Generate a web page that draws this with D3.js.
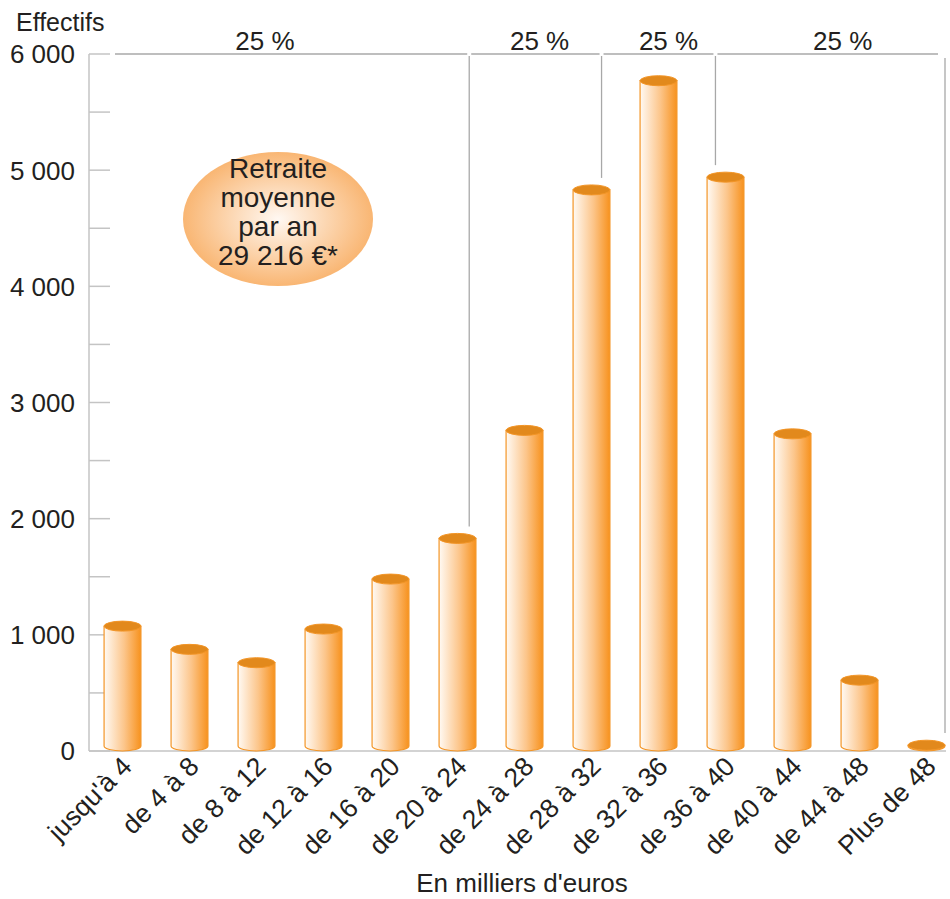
<!DOCTYPE html>
<html>
<head>
<meta charset="utf-8">
<script src="https://cdn.jsdelivr.net/npm/d3@7"></script>
<style>
  body { margin: 0; background: #fff; }
  svg { display: block; font-family: "Liberation Sans", Arial, sans-serif; }
  text { fill: #231f20; }
</style>
</head>
<body>
<svg id="chart" width="950" height="899"></svg>
<script>
// tranches de retraite (milliers d'euros) et effectifs
const categories = ["jusqu'à 4", "de 4 à 8", "de 8 à 12", "de 12 à 16", "de 16 à 20", "de 20 à 24",
    "de 24 à 28", "de 28 à 32", "de 32 à 36", "de 36 à 40", "de 40 à 44", "de 44 à 48", "Plus de 48"];
const effectifs = [1075, 875, 760, 1050, 1480, 1830, 2760, 4830, 5770, 4940, 2730, 610, 50];
const yTicks = [0, 1000, 2000, 3000, 4000, 5000, 6000];
const minorTicks = [500, 1500, 2500, 3500, 4500, 5500];
// quartiles (milliers d'euros) et libellés
const quartiles = [22.7, 30.6, 37.4];
const quartileLabels = [
    {k: 10.5, text: "25 %"},
    {k: 26.9, text: "25 %"},
    {k: 34.6, text: "25 %"},
    {k: 45.0, text: "25 %"}
];
const bubbleLines = ["Retraite", "moyenne", "par an", "29 216 €*"];

let svg = d3.select("#chart");

let x = d3.scaleBand().domain(categories).range([89, 960]).paddingInner(0.45).paddingOuter(0.225);
let y = d3.scaleLinear().domain([0, 6000]).range([751, 54]);
// euros -> position : le centre de chaque tranche de 4 k€
let xe = d3.scaleLinear()
    .domain([2, 50])
    .range([x(categories[0]) + x.bandwidth() / 2, x(categories[12]) + x.bandwidth() / 2]);

let locale = d3.formatLocale({decimal: ",", thousands: " ", grouping: [3], currency: ["", " €"]});
let fmt = locale.format(",");

let defs = svg.append("defs");
let grad = defs.append("linearGradient").attr("id", "body");
grad.append("stop").attr("offset", "0%").attr("stop-color", "#fffaf4");
grad.append("stop").attr("offset", "55%").attr("stop-color", "#fcc58a");
grad.append("stop").attr("offset", "100%").attr("stop-color", "#f7921e");
let rad = defs.append("radialGradient").attr("id", "bubble");
rad.append("stop").attr("offset", "0%").attr("stop-color", "#fff8f2");
rad.append("stop").attr("offset", "100%").attr("stop-color", "#f9b673");

const grey = "#c4c4c4";

// axe vertical et graduations
svg.append("line").attr("x1", 89).attr("x2", 89).attr("y1", y(6000)).attr("y2", y(0))
    .attr("stroke", grey).attr("stroke-width", 1.5);
svg.selectAll(".tick").data(yTicks.concat(minorTicks)).enter().append("line")
    .attr("x1", 89).attr("x2", 110)
    .attr("y1", d => y(d)).attr("y2", d => y(d))
    .attr("stroke", grey).attr("stroke-width", 1.5);
svg.selectAll(".ylab").data(yTicks).enter().append("text")
    .attr("x", 75).attr("y", d => y(d)).attr("dy", "0.36em")
    .attr("text-anchor", "end").style("font-size", "26px")
    .text(d => fmt(d));
svg.append("text").attr("x", 16).attr("y", 31).style("font-size", "25px").text("Effectifs");

// axe horizontal
svg.append("line").attr("x1", 89).attr("x2", 946).attr("y1", y(0)).attr("y2", y(0))
    .attr("stroke", grey).attr("stroke-width", 1.5);

// cylindres
let ry = 5;
let groups = svg.selectAll(".bar").data(effectifs).enter().append("g");
groups.append("path")
    .attr("d", (d, i) => {
        let x0 = x(categories[i]), w = x.bandwidth();
        let top = y(d), bot = y(0) - ry;
        return "M" + x0 + "," + top + "L" + x0 + "," + bot +
            "A" + (w / 2) + "," + ry + " 0 0 0 " + (x0 + w) + "," + bot +
            "L" + (x0 + w) + "," + top + "Z";
    })
    .attr("fill", "url(#body)")
    .attr("stroke", "#f39526").attr("stroke-width", 1.2);
groups.append("ellipse")
    .attr("cx", (d, i) => x(categories[i]) + x.bandwidth() / 2)
    .attr("cy", d => y(d))
    .attr("rx", x.bandwidth() / 2).attr("ry", ry)
    .attr("fill", "#e2891c").attr("stroke", "#f39526").attr("stroke-width", 1);

// repères des quartiles
let topY = y(6000);
let bounds = [115].concat(quartiles.map(q => xe(q))).concat([940]);
for (let i = 0; i < bounds.length - 1; i++) {
    svg.append("line")
        .attr("x1", bounds[i] + (i === 0 ? 0 : 2)).attr("x2", bounds[i + 1] - 2)
        .attr("y1", topY).attr("y2", topY)
        .attr("stroke", "#a8a8a8").attr("stroke-width", 1.3);
}
quartiles.forEach(q => {
    let bin = Math.floor(q / 4);
    svg.append("line")
        .attr("x1", xe(q)).attr("x2", xe(q))
        .attr("y1", topY + 2).attr("y2", y(effectifs[bin]) - 12)
        .attr("stroke", "#a8a8a8").attr("stroke-width", 1.3);
});
svg.append("line").attr("x1", 945).attr("x2", 945).attr("y1", topY + 4).attr("y2", 733)
    .attr("stroke", "#a8a8a8").attr("stroke-width", 1.3);
svg.selectAll(".qlab").data(quartileLabels).enter().append("text")
    .attr("x", d => xe(d.k)).attr("y", 50)
    .attr("text-anchor", "middle").style("font-size", "26px")
    .text(d => d.text);

// bulle de la retraite moyenne
svg.append("ellipse").attr("cx", 278).attr("cy", 219).attr("rx", 95).attr("ry", 67)
    .attr("fill", "url(#bubble)");
svg.selectAll(".bub").data(bubbleLines).enter().append("text")
    .attr("x", 278).attr("y", (d, i) => 178 + i * 29)
    .attr("text-anchor", "middle").style("font-size", "28px")
    .text(d => d);

// libellés des tranches
svg.selectAll(".xlab").data(categories).enter().append("text")
    .attr("transform", d => "translate(" + (x(d) + x.bandwidth() / 2 + 11) + "," + 768 + ") rotate(-45)")
    .attr("text-anchor", "end").style("font-size", "26.5px")
    .text(d => d);

svg.append("text").attr("x", 522).attr("y", 892).attr("text-anchor", "middle")
    .style("font-size", "26px").text("En milliers d'euros");
</script>
</body>
</html>
